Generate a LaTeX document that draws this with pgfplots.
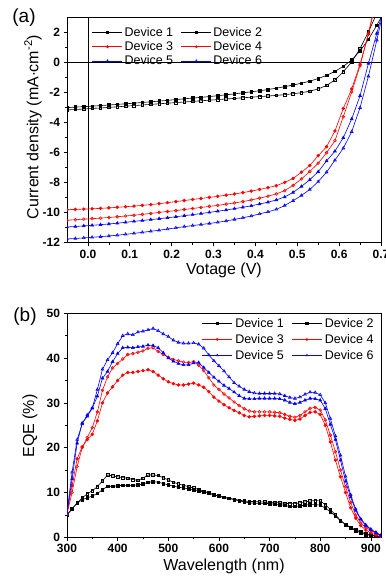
\documentclass[border=0pt]{standalone}
\usepackage{pgfplots}
\pgfplotsset{compat=1.18}
\usepackage{pgfplotstable}
\usepackage{fontspec}
\setmainfont{Liberation Sans}

\pgfplotstableread{
V d1 d2 d3 d4 d5 d6
-0.05 -3.00 -3.15 -9.80 -10.50 -10.95 -11.75
-0.03 -2.96 -3.12 -9.78 -10.47 -10.92 -11.72
-0.01 -2.93 -3.09 -9.76 -10.43 -10.88 -11.68
0.01 -2.90 -3.05 -9.74 -10.40 -10.84 -11.64
0.03 -2.86 -3.02 -9.71 -10.36 -10.80 -11.60
0.05 -2.82 -2.98 -9.68 -10.32 -10.75 -11.55
0.07 -2.78 -2.94 -9.64 -10.27 -10.70 -11.50
0.09 -2.74 -2.90 -9.60 -10.22 -10.64 -11.44
0.11 -2.70 -2.86 -9.56 -10.17 -10.58 -11.38
0.13 -2.65 -2.82 -9.51 -10.11 -10.52 -11.31
0.15 -2.61 -2.78 -9.46 -10.05 -10.46 -11.24
0.17 -2.56 -2.74 -9.40 -9.98 -10.40 -11.17
0.19 -2.51 -2.70 -9.33 -9.92 -10.34 -11.09
0.21 -2.46 -2.66 -9.26 -9.86 -10.27 -11.01
0.23 -2.41 -2.62 -9.19 -9.79 -10.20 -10.93
0.25 -2.36 -2.58 -9.12 -9.72 -10.13 -10.86
0.27 -2.31 -2.54 -9.05 -9.65 -10.06 -10.79
0.29 -2.26 -2.50 -8.98 -9.58 -9.98 -10.72
0.31 -2.20 -2.46 -8.91 -9.51 -9.90 -10.64
0.33 -2.14 -2.42 -8.83 -9.43 -9.82 -10.55
0.35 -2.08 -2.38 -8.75 -9.35 -9.73 -10.45
0.37 -2.01 -2.34 -8.66 -9.26 -9.64 -10.34
0.39 -1.94 -2.30 -8.56 -9.15 -9.54 -10.22
0.41 -1.87 -2.26 -8.45 -9.03 -9.42 -10.08
0.43 -1.79 -2.22 -8.33 -8.90 -9.30 -9.94
0.45 -1.70 -2.18 -8.20 -8.75 -9.15 -9.78
0.47 -1.60 -2.13 -7.98 -8.53 -8.95 -9.52
0.49 -1.49 -2.07 -7.72 -8.18 -8.65 -9.20
0.51 -1.37 -2.00 -7.30 -7.75 -8.25 -8.85
0.53 -1.23 -1.90 -6.85 -7.25 -7.80 -8.45
0.55 -1.06 -1.75 -6.20 -6.70 -7.27 -7.93
0.57 -0.85 -1.52 -5.60 -6.00 -6.55 -7.30
0.59 -0.58 -1.15 -4.55 -5.20 -5.90 -6.50
0.61 -0.24 -0.60 -3.05 -3.60 -5.00 -5.70
0.63 0.18 0.05 -1.75 -1.95 -3.75 -4.60
0.65 0.78 0.95 -0.10 -0.20 -2.20 -3.00
0.67 1.55 2.05 1.90 1.95 -0.05 -0.90
0.69 2.50 3.30 4.30 4.50 1.95 1.50
0.71 3.50 4.50 6.50 6.50 4.00 4.00
}\jv

\pgfplotstableread{
L d1 d2 d3 d4 d5 d6
300 5.0 5.0 5.4 5.2 5.5 5.5
310 6.4 6.3 11.5 10.0 13.0 14.5
320 7.6 7.7 17.5 15.8 21.0 21.8
330 8.4 8.8 20.2 20.0 25.5 25.3
340 8.8 9.7 21.8 22.3 27.0 27.3
350 9.2 10.4 23.0 24.5 28.8 28.9
360 9.8 11.3 26.0 28.0 31.5 33.0
370 10.6 12.6 30.0 32.8 35.5 37.5
380 11.4 13.9 32.2 35.8 37.0 39.6
390 11.4 13.7 33.6 37.8 39.2 41.2
400 11.5 13.5 35.0 38.8 41.0 43.2
410 11.6 13.3 36.2 39.8 42.3 45.0
420 11.6 13.2 36.8 40.8 42.4 45.4
430 11.6 12.9 36.8 41.0 42.3 45.2
440 11.7 12.7 37.0 41.3 42.5 45.8
450 11.9 13.2 37.2 41.6 42.6 46.0
460 12.3 13.9 37.4 42.2 42.9 46.3
470 12.4 13.9 37.0 42.3 42.8 46.6
480 12.3 13.8 36.2 41.5 42.3 46.1
490 12.0 13.3 35.4 40.8 41.2 45.4
500 11.7 12.8 34.7 40.2 40.0 44.8
510 11.4 12.3 34.3 39.7 39.3 44.0
520 11.2 11.9 34.0 39.4 38.8 43.5
530 11.0 11.6 34.0 39.1 38.5 43.3
540 10.8 11.3 34.2 39.0 38.5 43.3
550 10.6 11.0 34.4 39.2 38.9 43.4
560 10.4 10.7 34.0 38.4 39.0 43.1
570 10.1 10.3 33.5 37.2 37.9 42.2
580 9.8 9.9 32.5 35.6 36.8 40.7
590 9.5 9.5 31.3 34.0 35.7 39.4
600 9.2 9.2 30.4 33.0 34.8 38.3
610 8.9 8.9 29.6 32.0 33.9 37.1
620 8.7 8.7 28.9 31.1 33.2 35.8
630 8.4 8.5 28.3 30.2 32.4 34.5
640 8.1 8.3 27.8 29.4 31.6 33.7
650 7.9 8.1 27.2 28.7 31.0 33.0
660 7.7 8.0 26.9 28.2 30.9 32.5
670 7.6 8.0 27.0 28.0 30.9 32.2
680 7.6 7.9 27.1 28.0 31.0 32.1
690 7.6 7.9 27.2 28.0 31.0 32.1
700 7.5 7.8 27.2 28.0 31.0 32.1
710 7.4 7.8 27.1 27.9 31.0 32.1
720 7.3 7.7 27.0 27.8 30.9 32.0
730 7.1 7.6 26.6 27.4 30.6 31.6
740 6.9 7.5 26.3 27.0 30.1 31.2
750 6.9 7.5 26.1 26.8 29.8 31.0
760 7.0 7.7 26.4 27.2 30.1 31.3
770 7.2 7.9 27.2 28.0 30.6 31.9
780 7.3 8.1 27.9 28.8 31.0 32.4
790 7.3 8.2 28.0 29.0 30.9 32.3
800 7.2 8.1 27.4 28.4 30.6 31.8
810 6.5 7.3 25.0 26.2 28.7 30.0
820 5.7 6.2 21.3 22.8 25.2 26.5
830 4.7 5.0 17.2 19.1 21.8 22.6
840 3.7 3.8 13.5 15.0 17.2 18.3
850 2.9 2.8 10.0 11.3 12.5 13.6
860 2.2 2.1 6.6 7.8 9.0 9.5
870 1.7 1.5 4.3 5.0 6.0 6.3
880 1.2 1.0 2.6 3.2 4.0 4.1
890 0.8 0.6 1.6 2.2 2.6 2.8
900 0.5 0.4 1.0 1.5 1.7 1.8
910 0.3 0.2 0.5 0.9 1.0 1.1
920 0.1 0.1 0.1 0.3 0.4 0.5
}\eqe

\pgfplotsset{
 common/.style={
   scale only axis,
   axis line style={line width=0.8pt},
   tick align=outside, tick pos=left,
   major tick length=3.5pt, minor tick length=2pt,
   every tick/.style={black, line width=0.7pt},
   tick label style={font=\bfseries\fontsize{12}{12}\selectfont},
   /pgf/number format/assume math mode=true,
   clip marker paths=true,
   legend cell align=left,
   legend image code/.code={\draw[mark repeat=2,mark phase=2,##1,mark size=1.1pt] plot coordinates {(0pt,0pt) (15pt,0pt) (30pt,0pt)};},
 },
 s1/.style={black, line width=0.6pt, mark=square*, mark size=1.3pt, mark options={solid}},
 s2/.style={black, line width=0.6pt, mark=square, mark size=1.3pt, mark options={solid, fill=white}},
 s3/.style={red, line width=0.6pt, mark=*, mark size=1.4pt, mark options={solid}},
 s4/.style={red, line width=0.6pt, mark=o, mark size=1.4pt, mark options={solid, fill=white}},
 s5/.style={blue, line width=0.6pt, mark=triangle*, mark size=1.6pt, mark options={solid}},
 s6/.style={blue, line width=0.6pt, mark=triangle, mark size=1.6pt, mark options={solid, fill=white}},
}

\begin{document}
\begin{tikzpicture}[x=1pt,y=1pt]
\useasboundingbox (0,0) rectangle (385,577);

% ---------- panel (a)
\begin{axis}[common,
  at={(67pt,334.3pt)}, anchor=south west,
  width=314pt, height=225pt,
  xmin=-0.05, xmax=0.7, ymin=-12, ymax=3,
  xtick={0,0.1,...,0.7}, ytick={-12,-10,...,2},
  minor x tick num=1, minor y tick num=1,
  xticklabel style={/pgf/number format/.cd, fixed, fixed zerofill, precision=1},
  legend columns=2,
  legend style={font=\fontsize{12.5}{13}\selectfont, draw=none, fill=none,
    at={(0.07,0.975)}, anchor=north west,
    nodes={inner sep=1.8pt},
    /tikz/every even column/.append style={column sep=6pt}},
]
\addplot[black, line width=0.6pt, no marks, forget plot] coordinates {(0,-12) (0,3)};
\addplot[black, line width=0.6pt, no marks, forget plot] coordinates {(-0.05,0) (0.7,0)};
\addplot[s1] table[x=V,y=d1] {\jv}; \addlegendentry{Device 1}
\addplot[s2] table[x=V,y=d2] {\jv}; \addlegendentry{Device 2}
\addplot[s3] table[x=V,y=d3] {\jv}; \addlegendentry{Device 3}
\addplot[s4] table[x=V,y=d4] {\jv}; \addlegendentry{Device 4}
\addplot[s5] table[x=V,y=d5] {\jv}; \addlegendentry{Device 5}
\addplot[s6] table[x=V,y=d6] {\jv}; \addlegendentry{Device 6}
\end{axis}

% ---------- panel (b)
\begin{axis}[common,
  at={(67pt,39.7pt)}, anchor=south west,
  width=314pt, height=224pt,
  xmin=300, xmax=920, ymin=0, ymax=50,
  xtick={300,400,...,900}, ytick={0,10,...,50},
  minor x tick num=1, minor y tick num=1,
  legend columns=2,
  legend style={font=\fontsize{12.5}{13}\selectfont, draw=none, fill=none,
    at={(0.995,1.0)}, anchor=north east,
    nodes={inner sep=2.7pt},
    /tikz/every even column/.append style={column sep=5pt}},
]
\addplot[s1] table[x=L,y=d1] {\eqe}; \addlegendentry{Device 1}
\addplot[s2] table[x=L,y=d2] {\eqe}; \addlegendentry{Device 2}
\addplot[s3] table[x=L,y=d3] {\eqe}; \addlegendentry{Device 3}
\addplot[s4] table[x=L,y=d4] {\eqe}; \addlegendentry{Device 4}
\addplot[s5] table[x=L,y=d5] {\eqe}; \addlegendentry{Device 5}
\addplot[s6] table[x=L,y=d6] {\eqe}; \addlegendentry{Device 6}
\end{axis}

% labels
\node[font=\fontsize{19}{19}\selectfont] at (24,559) {(a)};
\node[font=\fontsize{19}{19}\selectfont] at (25,260) {(b)};
\node[rotate=90, font=\fontsize{16}{16}\selectfont] at (33,450) {Current density (mA$\cdot$cm\textsuperscript{-2})};
\node[font=\fontsize{16}{16}\selectfont] at (224,306.3) {Votage (V)};
\node[rotate=90, font=\fontsize{16}{16}\selectfont] at (30,151) {EQE (\%)};
\node[font=\fontsize{16}{16}\selectfont] at (224,10.3) {Wavelength (nm)};
\end{tikzpicture}
\end{document}
